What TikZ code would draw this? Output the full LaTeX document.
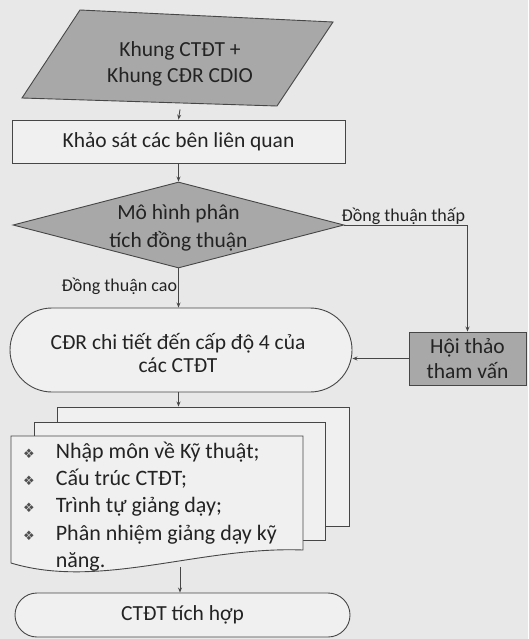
\documentclass[tikz,border=0pt]{standalone}
\usepackage{fontspec}
\setmainfont{Carlito}
\newfontfamily\symfont{DejaVu Sans}
\usetikzlibrary{arrows.meta,shapes.geometric}
\definecolor{bg}{RGB}{232,232,232}
\definecolor{lightbox}{RGB}{240,240,240}
\definecolor{darkbox}{RGB}{168,168,168}
\definecolor{ink}{RGB}{35,35,35}
\definecolor{edge}{RGB}{70,70,70}
\tikzset{
  base/.style={draw=edge, line width=0.9pt, text=ink, font=\fontsize{21.5}{25.5}\selectfont, align=center, inner sep=0pt},
  lightnode/.style={base, fill=lightbox},
  darknode/.style={base, fill=darkbox},
  txt/.style={text=ink, align=center, inner sep=0pt},
  shapeline/.style={draw=edge, line width=0.9pt},
  conn/.style={draw=edge, line width=0.9pt, -{Stealth[length=5pt,width=4pt]}},
  lbl/.style={text=ink, font=\fontsize{18}{20}\selectfont, inner sep=1pt},
  bul/.style={text=ink, font=\fontsize{22}{27.3}\selectfont, inner sep=0pt, align=left},
}
\newcommand{\bulmark}{{\symfont\fontsize{13}{13}\selectfont\textcolor{ink!80}{❖}}}
\begin{document}
\begin{tikzpicture}[x=1pt,y=-1pt]
\fill[bg] (0,0) rectangle (528,639);
\useasboundingbox (0,0) rectangle (528,639);

% parallelogram
\fill[darkbox] (80,10) -- (333,22) -- (277,106) -- (22,98) -- cycle;
\draw[shapeline] (80,10) -- (333,22) -- (277,106) -- (22,98) -- cycle;
\node[base, draw=none, minimum width=200pt, minimum height=90pt] (par) at (180,64) {Khung CTĐT +\\Khung CĐR CDIO};

% survey box
\node[lightnode, minimum width=333pt, minimum height=43pt] (khao) at (178.5,141.5) {Khảo sát các bên liên quan};

% diamond
\node[darknode, diamond, aspect=3.85, minimum width=331pt, minimum height=86pt] (dia) at (178.5,225) {};
\node[txt, font=\fontsize{21.5}{28}\selectfont] (diatext) at ([yshift=-3pt]dia.center) {Mô hình phân\\tích đồng thuận};

% terminal CDR
\node[lightnode, rounded corners=42pt, minimum width=342pt, minimum height=84pt] (cdr) at (181,350) {};
\node[txt, font=\fontsize{21.5}{23}\selectfont] (cdrtext) at ([xshift=-3pt,yshift=-3.5pt]cdr.center) {CĐR chi tiết đến cấp độ 4 của\\các CTĐT};

% workshop
\node[darknode, minimum width=117pt, minimum height=53pt] (hoi) at (467.5,358.5) {Hội thảo\\tham vấn};

% document stack
\node[lightnode, minimum width=292pt, minimum height=119pt] (s3) at (203,466.5) {};
\node[lightnode, minimum width=291pt, minimum height=118pt] (s2) at (179.5,481) {};
\fill[lightbox] (11,436) -- (303,436) -- (303,550) .. controls (200,546) and (100,590) .. (11,563) -- cycle;
\draw[shapeline] (11,436) -- (303,436) -- (303,550) .. controls (200,546) and (100,590) .. (11,563) -- cycle;
\node[bul, anchor=north west] (doc) at (23,439) {%
\begin{tabular}{@{}l@{\hspace{21pt}}l@{}}
\bulmark & Nhập môn về Kỹ thuật;\\
\bulmark & Cấu trúc CTĐT;\\
\bulmark & Trình tự giảng dạy;\\
\bulmark & Phân nhiệm giảng dạy kỹ\\
 & năng.
\end{tabular}};
\coordinate (docb) at (180,567);

% final terminal
\node[lightnode, rounded corners=22pt, minimum width=335pt, minimum height=44pt] (fin) at (182.5,615) {CTĐT tích hợp};

% connectors
\draw[conn] (par.south) -- (khao.north);
\draw[conn] (khao.south) -- (dia.north);
\draw[conn] (dia.south) -- node[lbl, anchor=east, pos=0.45] (lc) {Đồng thuận cao} (cdr.north -| dia.south);
\draw[conn] (dia.east) -| (hoi.north);
\node[lbl, anchor=south west] (lt) at ([xshift=-4pt,yshift=-1pt]dia.east) {Đồng thuận thấp};
\draw[conn] (hoi.west) -- (hoi.west -| cdr.east);
\draw[conn] (cdr.south -| dia.south) -- (dia.south |- s3.north);
\draw[conn] (docb) -- (docb |- fin.north);
\end{tikzpicture}
\end{document}
